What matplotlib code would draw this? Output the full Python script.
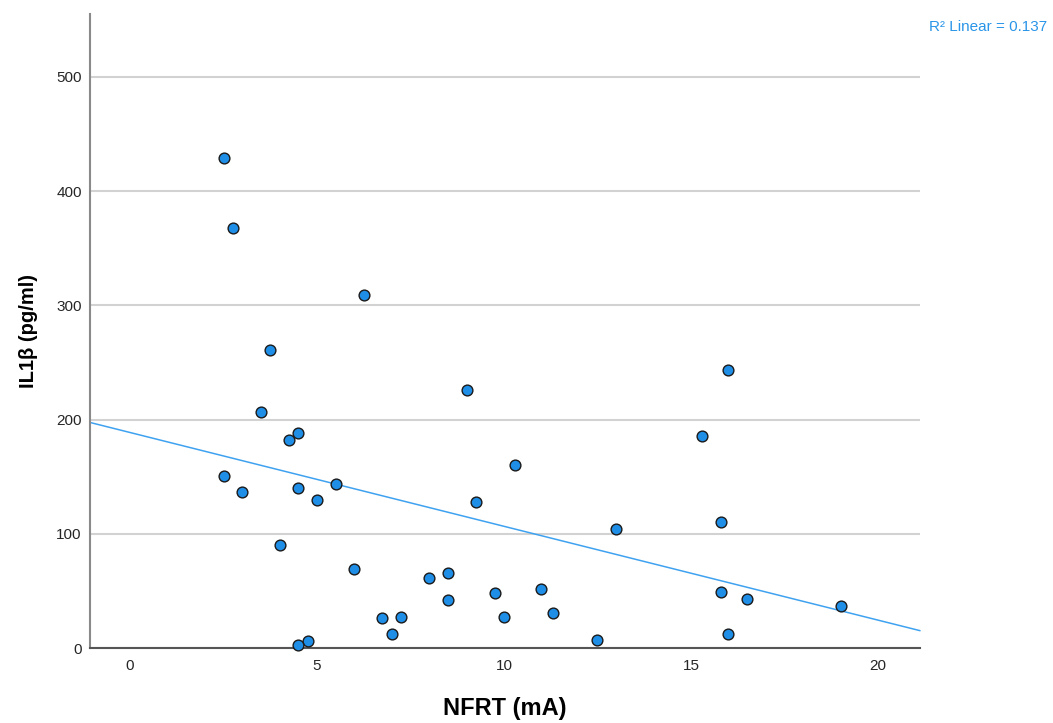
import numpy as np
import matplotlib
matplotlib.use("Agg")
import matplotlib.pyplot as plt

plt.rcParams["font.family"] = ["Liberation Sans", "DejaVu Sans"]

# NFRT (mA) vs IL1b (pg/ml)
nfrt = [2.5, 2.75, 6.25, 3.75, 9.0, 16.0, 3.5, 4.5, 4.25, 15.3,
        10.3, 2.5, 3.0, 4.5, 5.5, 5.0, 9.25, 13.0, 15.8, 4.0,
        6.0, 8.0, 8.5, 8.5, 9.75, 11.0, 11.3, 15.8, 16.5, 19.0,
        6.75, 7.25, 10.0, 7.0, 4.75, 4.5, 12.5, 16.0]
il1b = [429, 368, 309, 261, 226, 243, 207, 188, 182, 186,
        160, 151, 137, 140, 144, 130, 128, 104, 110, 90,
        69, 61, 66, 42, 48, 52, 31, 49, 43, 37,
        26, 27, 27, 12, 6, 2.5, 7, 12]

r2_label = "R\u00b2 Linear = 0.137"
yticks = [0, 100, 200, 300, 400, 500]
xticks = [0, 5, 10, 15, 20]

blue = "#1f8ee6"
line_blue = "#3fa2f0"

fig = plt.figure(figsize=(10.53, 7.23), dpi=100)
ax = fig.add_axes([0.0855, 0.1037, 0.788, 0.877])

xlim = (-1.07, 21.12)
ax.set_xlim(*xlim)
ax.set_ylim(0, 555)

ax.set_yticks(yticks)
ax.set_xticks(xticks)
ax.yaxis.grid(True, color="#d2d2d2", lw=1.5)
ax.set_axisbelow(True)

# linear fit across the whole axis range
slope, icpt = np.polyfit(nfrt, il1b, 1)
xs = np.array(xlim)
ax.plot(xs, icpt + slope * xs, color=line_blue, lw=1.1, zorder=2, clip_on=False)

ax.scatter(nfrt, il1b, s=60, c=blue, edgecolors="#1a1a1a", linewidths=1.0,
           zorder=3, clip_on=False)

for s in ["top", "right"]:
    ax.spines[s].set_visible(False)
ax.spines["left"].set_color("#8a8a8a")
ax.spines["left"].set_linewidth(1.5)
ax.spines["bottom"].set_color("#555555")
ax.spines["bottom"].set_linewidth(1.5)

ax.tick_params(axis="both", length=0, labelsize=11, labelcolor="#262626")
ax.tick_params(axis="y", pad=6)
ax.tick_params(axis="x", pad=8)

ax.set_xlabel("NFRT (mA)", fontsize=17, fontweight="bold", labelpad=17)
ax.set_ylabel("IL1\u03b2 (pg/ml)", fontsize=14.5, fontweight="bold", labelpad=13)

fig.text(0.994, 0.962, r2_label, ha="right", va="center", fontsize=11,
         color="#2a95e8")

fig.savefig("out.png", dpi=100)
